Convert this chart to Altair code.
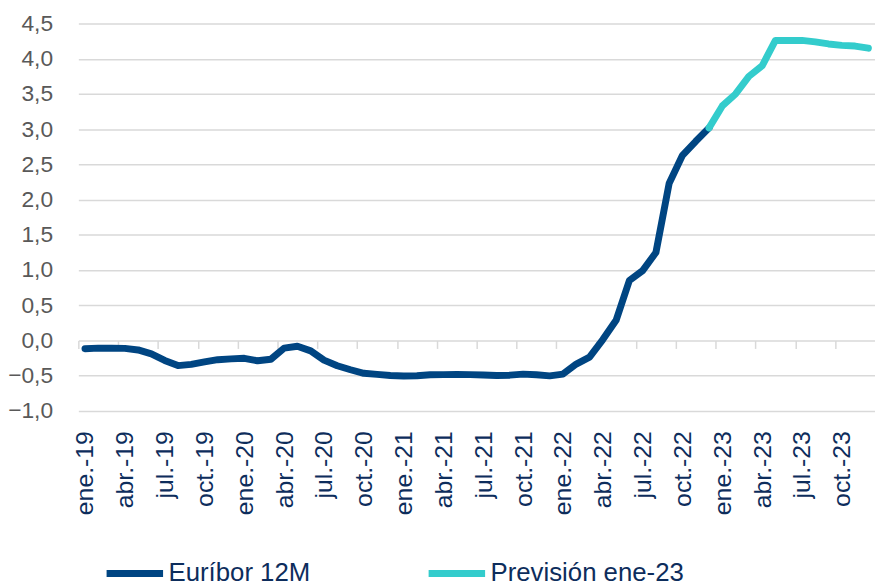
import altair as alt
import pandas as pd

# Monthly series, ene-19 .. dic-22 (Euríbor 12M)
euribor_values = [
    -0.116, -0.108, -0.109, -0.112, -0.134, -0.190, -0.283, -0.356, -0.339, -0.304, -0.272, -0.261,
    -0.253, -0.288, -0.266, -0.108, -0.081, -0.147, -0.279, -0.358, -0.415, -0.466, -0.481, -0.497,
    -0.505, -0.501, -0.487, -0.484, -0.481, -0.484, -0.491, -0.498, -0.492, -0.477, -0.487, -0.502,
    -0.477, -0.335, -0.237, 0.013, 0.287, 0.852, 0.992, 1.249, 2.233, 2.629, 2.828, 3.018,
]
# Forecast, dic-22 .. dic-23
forecast_values = [3.018, 3.33, 3.50, 3.75, 3.90, 4.26, 4.26, 4.26, 4.24, 4.21, 4.19, 4.18, 4.15]
forecast_start = 47

tick_labels = [
    "ene.-19", "abr.-19", "jul.-19", "oct.-19",
    "ene.-20", "abr.-20", "jul.-20", "oct.-20",
    "ene.-21", "abr.-21", "jul.-21", "oct.-21",
    "ene.-22", "abr.-22", "jul.-22", "oct.-22",
    "ene.-23", "abr.-23", "jul.-23", "oct.-23",
]
series_names = ["Euríbor 12M", "Previsión ene-23"]
series_colors = ["#004582", "#33CCCC"]

rows = []
for i, v in enumerate(euribor_values):
    rows.append({"idx": i, "value": v, "series": series_names[0]})
for j, v in enumerate(forecast_values):
    rows.append({"idx": forecast_start + j, "value": v, "series": series_names[1]})
df = pd.DataFrame(rows)

W, H = 804, 391
month_px = W / 60.0
label_arr = "[" + ",".join("'%s'" % t for t in tick_labels) + "]"

chart = alt.Chart(df).mark_line(
    strokeWidth=7, strokeCap="round", strokeJoin="round"
).encode(
    x=alt.X(
        "idx:Q",
        scale=alt.Scale(domain=[-0.5, 59.5], nice=False, zero=False),
        axis=alt.Axis(
            values=[-0.5 + 3 * k for k in range(20)],
            labelExpr=label_arr + "[round((datum.value + 0.5) / 3)]",
            labelAngle=270,
            labelAlign="right",
            labelBaseline="middle",
            labelOffset=month_px / 2,
            labelPadding=83,
            labelFontSize=25,
            labelColor="#0D2D5C",
            labelOverlap=False,
            labelFlush=False,
            labelBound=False,
            offset=-H / 5.5,
            domain=False,
            ticks=True,
            tickSize=8,
            tickColor="#D9D9D9",
            tickWidth=1.5,
            grid=False,
            title=None,
        ),
    ),
    y=alt.Y(
        "value:Q",
        scale=alt.Scale(domain=[-1.0, 4.5], nice=False, zero=False),
        axis=alt.Axis(
            values=[-1.0 + 0.5 * k for k in range(12)],
            labelExpr="replace(format(datum.value, '.1f'), '.', ',')",
            labelFontSize=23,
            labelColor="#595959",
            labelPadding=26,
            domain=False,
            ticks=False,
            grid=True,
            gridColor="#D9D9D9",
            gridWidth=1.5,
            title=None,
        ),
    ),
    color=alt.Color(
        "series:N",
        scale=alt.Scale(domain=series_names, range=series_colors),
        legend=alt.Legend(
            orient="none",
            legendX=25,
            legendY=523,
            direction="horizontal",
            title=None,
            symbolType="stroke",
            symbolSize=3249,
            symbolStrokeWidth=7,
            labelFontSize=26,
            labelColor="#0D2D5C",
            labelOffset=2,
            columnPadding=104,
            labelLimit=0,
            padding=0,
        ),
    ),
    order=alt.Order("idx:Q"),
).properties(
    width=W,
    height=H,
    autosize=alt.AutoSizeParams(type="none"),
    padding={"left": 71, "top": 13, "right": 0, "bottom": 173},
).configure(
    font="Liberation Sans",
).configure_view(stroke=None)

chart.save("out.html", embed_options={"renderer": "svg", "actions": False})
